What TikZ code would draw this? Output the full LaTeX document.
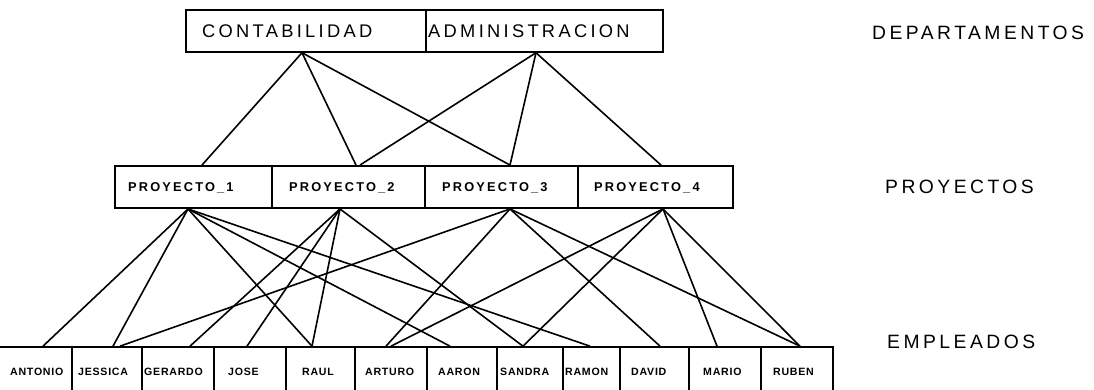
\documentclass[tikz,border=0pt]{standalone}
\usepackage{fontspec}
\setmainfont{Liberation Sans}
\newfontfamily\bigf[LetterSpace=18]{Liberation Sans}
\newfontfamily\projf[LetterSpace=17]{Liberation Sans Bold}
\newfontfamily\empf[LetterSpace=7]{Liberation Sans Bold}
\usetikzlibrary{calc}
\tikzset{
  deptbox/.style={draw, line width=1.5pt, minimum height=42pt, inner sep=0pt},
  projbox/.style={draw, line width=1.9pt, minimum height=42pt, inner sep=0pt},
  empbox/.style={draw, line width=1.7pt, minimum height=45pt, inner sep=0pt},
  toplabel/.style={anchor=base west, inner sep=0pt, font=\bigf\fontsize{18.3}{18.3}\selectfont},
  sidelabel/.style={anchor=base west, inner sep=0pt, font=\bigf\fontsize{19.3}{19.3}\selectfont},
  projlabel/.style={anchor=base west, inner sep=0pt, font=\projf\fontsize{12.8}{12.8}\selectfont},
  emplabel/.style={anchor=base west, inner sep=0pt, font=\empf\fontsize{10.6}{10.6}\selectfont},
  link/.style={line width=1.6pt}
}
\begin{document}
\begin{tikzpicture}[x=1pt,y=-1pt]
\useasboundingbox (0,0) rectangle (1094,389);
% departments
\node[deptbox, minimum width=240pt] (cont) at (306,31) {};
\node[deptbox, minimum width=237pt] (admin) at (544.5,31) {};
\node[toplabel] (tcont) at (202,37) {CONTABILIDAD};
\node[toplabel] (tadmin) at (428,37) {ADMINISTRACION};
% projects
\node[projbox, minimum width=157pt] (p1) at (193.5,187) {};
\node[projbox, minimum width=153pt] (p2) at (348.5,187) {};
\node[projbox, minimum width=153pt] (p3) at (501.5,187) {};
\node[projbox, minimum width=155pt] (p4) at (655.5,187) {};
\node[projlabel] (tp1) at (128,191.5) {PROYECTO\_1};
\node[projlabel] (tp2) at (289,191.5) {PROYECTO\_2};
\node[projlabel] (tp3) at (442,191.5) {PROYECTO\_3};
\node[projlabel] (tp4) at (594,191.5) {PROYECTO\_4};
% employees
\node[empbox, minimum width=74pt] (e1) at (35,369.5) {};
\node[empbox, minimum width=70pt] (e2) at (107,369.5) {};
\node[empbox, minimum width=72pt] (e3) at (178,369.5) {};
\node[empbox, minimum width=72pt] (e4) at (250,369.5) {};
\node[empbox, minimum width=69pt] (e5) at (320.5,369.5) {};
\node[empbox, minimum width=72pt] (e6) at (391,369.5) {};
\node[empbox, minimum width=70pt] (e7) at (462,369.5) {};
\node[empbox, minimum width=66pt] (e8) at (530,369.5) {};
\node[empbox, minimum width=57pt] (e9) at (591.5,369.5) {};
\node[empbox, minimum width=69pt] (e10) at (654.5,369.5) {};
\node[empbox, minimum width=72pt] (e11) at (725,369.5) {};
\node[empbox, minimum width=72pt] (e12) at (797,369.5) {};
\node[emplabel] (t1) at (10,375) {ANTONIO};
\node[emplabel] (t2) at (78,375) {JESSICA};
\node[emplabel] (t3) at (144,375) {GERARDO};
\node[emplabel] (t4) at (228,375) {JOSE};
\node[emplabel] (t5) at (302,375) {RAUL};
\node[emplabel] (t6) at (365,375) {ARTURO};
\node[emplabel] (t7) at (438,375) {AARON};
\node[emplabel] (t8) at (500,375) {SANDRA};
\node[emplabel] (t9) at (565,375) {RAMON};
\node[emplabel] (t10) at (631,375) {DAVID};
\node[emplabel] (t11) at (703,375) {MARIO};
\node[emplabel] (t12) at (773,375) {RUBEN};
% side labels
\node[sidelabel] (ld) at (872,39) {DEPARTAMENTOS};
\node[sidelabel] (lp) at (885,193) {PROYECTOS};
\node[sidelabel] (le) at (887,348) {EMPLEADOS};
% department -> project links
\draw[link] ($(cont.south)+(-4,0)$) -- ($(p1.north)+(8.5,0)$);
\draw[link] ($(cont.south)+(-4,0)$) -- ($(p2.north)+(7.5,0)$);
\draw[link] ($(cont.south)+(-4,0)$) -- ($(p3.north)+(8.5,0)$);
\draw[link] ($(admin.south)+(-8.5,0)$) -- ($(p2.north)+(11.5,0)$);
\draw[link] ($(admin.south)+(-8.5,0)$) -- ($(p3.north)+(8.5,0)$);
\draw[link] ($(admin.south)+(-8.5,0)$) -- ($(p4.north)+(5.5,0)$);
% project -> employee links
\draw[link] ($(p1.south)+(-5.5,0)$) -- ($(e1.north)+(8,0)$);
\draw[link] ($(p1.south)+(-5.5,0)$) -- ($(e2.north)+(6,0)$);
\draw[link] ($(p1.south)+(-5.5,0)$) -- ($(e5.north)+(-8.5,0)$);
\draw[link] ($(p1.south)+(-5.5,0)$) -- ($(e7.north)+(-12,0)$);
\draw[link] ($(p1.south)+(-5.5,0)$) -- ($(e9.north)+(-1.5,0)$);
\draw[link] ($(p2.south)+(-8.5,0)$) -- ($(e3.north)+(12,0)$);
\draw[link] ($(p2.south)+(-8.5,0)$) -- ($(e4.north)+(-3,0)$);
\draw[link] ($(p2.south)+(-8.5,0)$) -- ($(e5.north)+(-8.5,0)$);
\draw[link] ($(p2.south)+(-8.5,0)$) -- ($(e8.north)+(-7,0)$);
\draw[link] ($(p3.south)+(8.5,0)$) -- ($(e2.north)+(13,0)$);
\draw[link] ($(p3.south)+(8.5,0)$) -- ($(e6.north)+(-5,0)$);
\draw[link] ($(p3.south)+(8.5,0)$) -- ($(e10.north)+(5.5,0)$);
\draw[link] ($(p3.south)+(8.5,0)$) -- ($(e12.north)+(3,0)$);
\draw[link] ($(p4.south)+(7.5,0)$) -- ($(e6.north)+(0,0)$);
\draw[link] ($(p4.south)+(7.5,0)$) -- ($(e8.north)+(-7,0)$);
\draw[link] ($(p4.south)+(7.5,0)$) -- ($(e11.north)+(-8,0)$);
\draw[link] ($(p4.south)+(7.5,0)$) -- ($(e12.north)+(3,0)$);
\end{tikzpicture}
\end{document}
